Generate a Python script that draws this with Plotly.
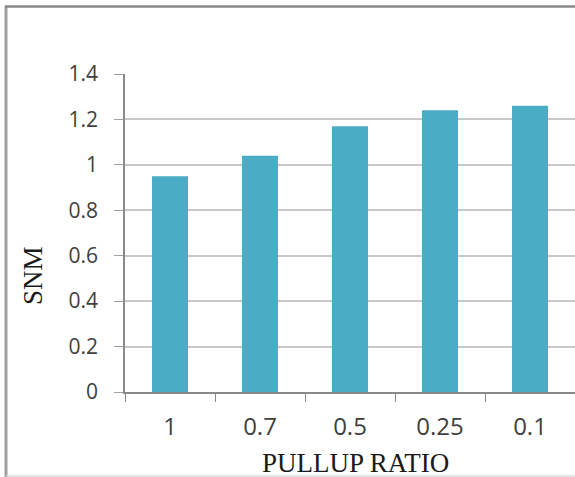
import plotly.graph_objects as go

categories = ["1", "0.7", "0.5", "0.25", "0.1"]
snm_values = [0.95, 1.04, 1.17, 1.24, 1.26]
y_ticks = [0, 0.2, 0.4, 0.6, 0.8, 1, 1.2, 1.4]
y_tick_labels = ["0", "0.2", "0.4", "0.6", "0.8", "1", "1.2", "1.4"]

W, H = 575, 477
L, R, T, B = 125, 0, 74, 85
pw, ph = W - L - R, H - T - B

def px_x(x):
    return (x - L) / pw

def px_y(y):
    return (H - B - y) / ph

fig = go.Figure(go.Bar(x=categories, y=snm_values, marker=dict(color="#4BACC6", line=dict(width=0))))

fig.update_layout(
    width=W, height=H,
    margin=dict(l=L, r=R, t=T, b=B, autoexpand=False),
    paper_bgcolor="white", plot_bgcolor="white",
    bargap=0.6, showlegend=False,
    font=dict(family="Open Sans, Liberation Sans, sans-serif", size=18, color="#404040"),
)
fig.update_xaxes(
    type="category", showline=True, linecolor="#898989", linewidth=1.5,
    ticks="outside", tickson="boundaries", ticklen=8, tickcolor="#898989",
    showgrid=False, tickfont=dict(size=24, color="#404040"), ticklabelstandoff=12,
)
fig.update_yaxes(
    range=[0, 1.4], tickvals=y_ticks, ticktext=y_tick_labels,
    showline=True, linecolor="#898989", linewidth=1.5,
    ticks="outside", ticklen=9, tickcolor="#a0a0a0",
    showgrid=True, gridcolor="#c8c8c8", gridwidth=1.5, zeroline=False,
    tickfont=dict(size=21, color="#404040"), ticklabelstandoff=12,
)

fig.add_annotation(text="PULLUP RATIO", xref="paper", yref="paper",
                   x=px_x(355), y=px_y(463), xanchor="center", yanchor="middle",
                   showarrow=False,
                   font=dict(family="Liberation Serif, serif", size=27, color="#1a1a1a"))
fig.add_annotation(text="SNM", xref="paper", yref="paper", textangle=-90,
                   x=px_x(33), y=px_y(276), xanchor="center", yanchor="middle",
                   showarrow=False,
                   font=dict(family="Liberation Serif, serif", size=27, color="#1a1a1a"))

# page frame
fig.add_shape(type="line", xref="paper", yref="paper", x0=px_x(6), x1=px_x(6),
              y0=px_y(6), y1=px_y(477), line=dict(color="#a0a0a0", width=3))
fig.add_shape(type="line", xref="paper", yref="paper", x0=px_x(5), x1=px_x(580),
              y0=px_y(6.5), y1=px_y(6.5), line=dict(color="#8a8a8a", width=2.5))
fig.add_shape(type="line", xref="paper", yref="paper", x0=px_x(6), x1=px_x(580),
              y0=px_y(476), y1=px_y(476), line=dict(color="#d8d8d8", width=1.5))

fig.write_html("out.html", config={"displayModeBar": False},
               post_script="document.body.style.margin='0';document.body.style.padding='0';document.body.style.overflow='hidden';")
